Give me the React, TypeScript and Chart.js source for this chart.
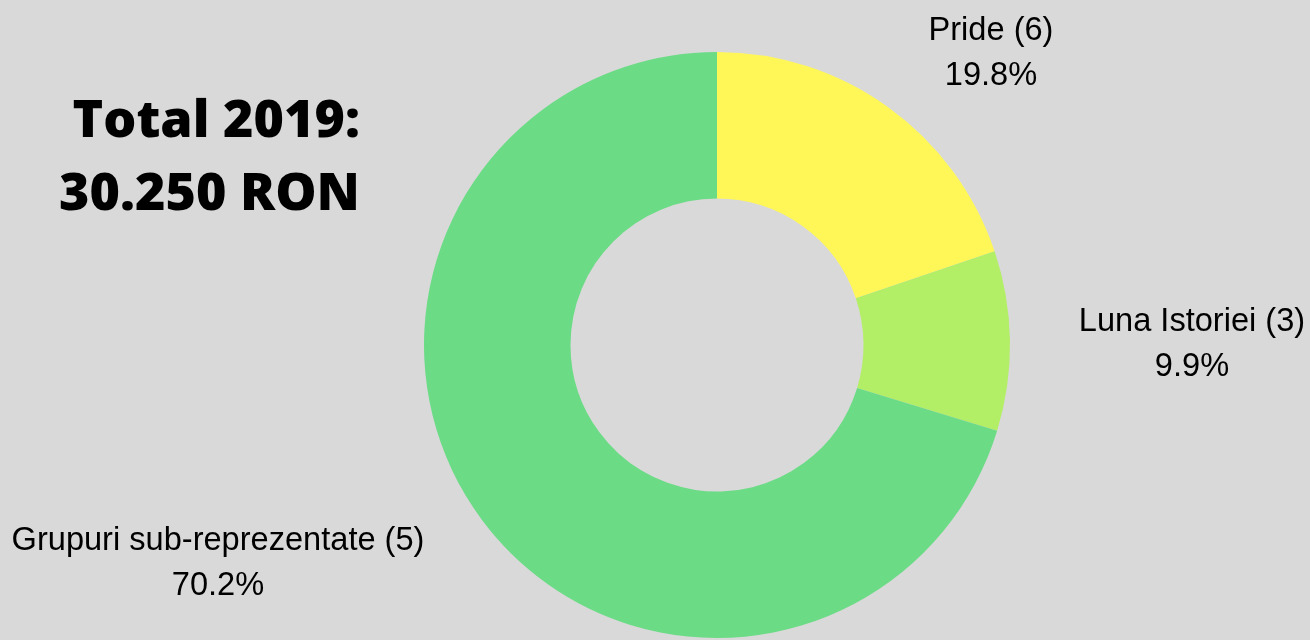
import React, { useEffect, useRef } from "react";
import { Chart, registerables } from "chart.js";

Chart.register(...registerables);

const categories = ["Pride (6)", "Luna Istoriei (3)", "Grupuri sub-reprezentate (5)"];
const values = [19.8, 9.9, 70.2];
const percentLabels = ["19.8%", "9.9%", "70.2%"];
const colors = ["#FFF757", "#B3EE67", "#6CDB86"];
// label placement offsets relative to the doughnut centre (px): [dx, dyFirstBaseline]
const labelOffsets = [
  [274, -305],
  [475, -14],
  [-499, 205],
];

const labelPlugin = {
  id: "outerLabels",
  afterDraw(chart: any) {
    const meta = chart.getDatasetMeta(0);
    const ctx = chart.ctx;
    ctx.save();
    ctx.fillStyle = "#000000";
    ctx.font = "32.6px 'Liberation Sans', Arial, sans-serif";
    ctx.textAlign = "center";
    ctx.textBaseline = "alphabetic";
    meta.data.forEach((arc: any, i: number) => {
      const cx = arc.x;
      const cy = arc.y;
      const [dx, dy] = labelOffsets[i];
      ctx.fillText(categories[i], cx + dx, cy + dy);
      ctx.fillText(percentLabels[i], cx + dx, cy + dy + 45);
    });
    ctx.restore();
  },
};

export default function App() {
  const canvasRef = useRef<HTMLCanvasElement | null>(null);

  useEffect(() => {
    document.body.style.margin = "0";
    const chart = new Chart(canvasRef.current as HTMLCanvasElement, {
      type: "doughnut",
      data: {
        labels: categories,
        datasets: [
          {
            data: values,
            backgroundColor: colors,
            borderWidth: 0,
            hoverOffset: 0,
          },
        ],
      },
      options: {
        animation: false,
        responsive: false,
        maintainAspectRatio: false,
        cutout: "50%",
        rotation: 0,
        layout: { padding: { left: 424, right: 300, top: 52, bottom: 2 } },
        plugins: {
          legend: { display: false },
          tooltip: { enabled: false },
        },
      },
      plugins: [labelPlugin],
    });
    return () => chart.destroy();
  }, []);

  return (
    <div
      style={{
        position: "relative",
        width: 1310,
        height: 640,
        background: "#D9D9D9",
        overflow: "hidden",
      }}
    >
      <canvas ref={canvasRef} width={1310} height={640} style={{ position: "absolute", left: 0, top: 0 }} />
      <div
        style={{
          position: "absolute",
          left: 0,
          top: 80,
          width: 360,
          textAlign: "right",
          fontFamily: "'Open Sans', sans-serif",
          fontWeight: 800,
          fontSize: 52,
          lineHeight: "73px",
          color: "#000",
          whiteSpace: "nowrap",
        }}
      >
        Total 2019:
        <br />
        30.250 RON
      </div>
    </div>
  );
}
